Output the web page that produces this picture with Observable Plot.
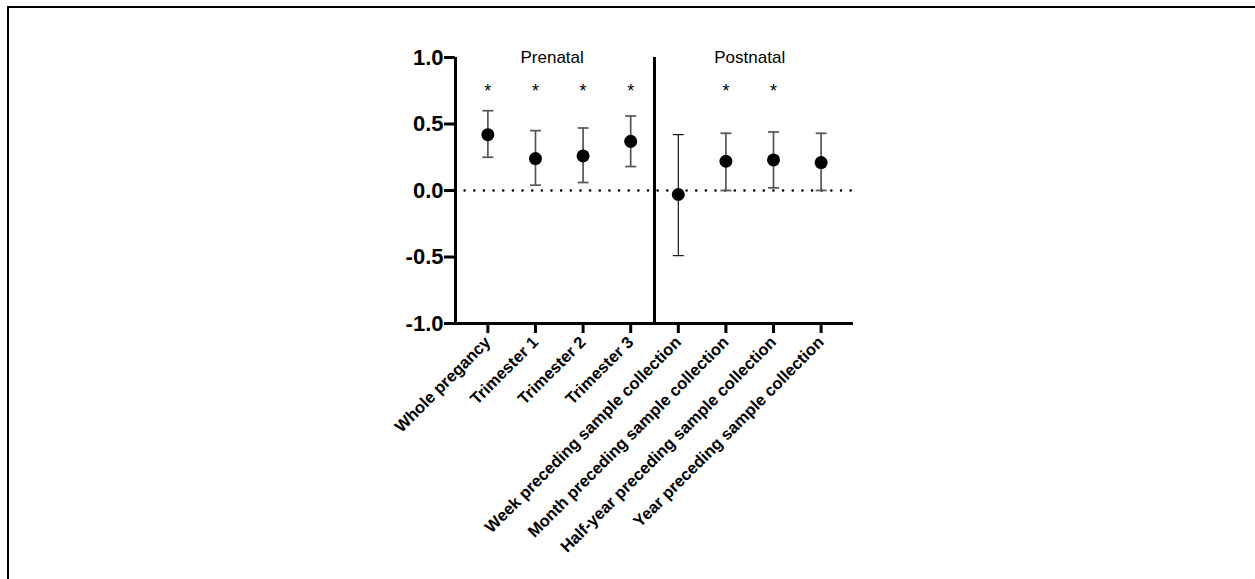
<!DOCTYPE html>
<html>
<head>
<meta charset="utf-8">
<script src="https://cdn.jsdelivr.net/npm/d3@7"></script>
<script src="https://cdn.jsdelivr.net/npm/@observablehq/plot@0.6"></script>
<style>
  html, body { margin: 0; padding: 0; background: #fff; }
  #wrap { position: relative; width: 1255px; height: 579px; overflow: hidden; }
  #frame { position: absolute; left: 7px; top: 6px; width: 1300px; height: 700px;
           border-left: 2.5px solid #000; border-top: 2.5px solid #000; pointer-events: none; }
  svg { display: block; }
</style>
</head>
<body>
<div id="wrap"><div id="frame"></div></div>
<script>
const categories = [
  "Whole pregancy", "Trimester 1", "Trimester 2", "Trimester 3",
  "Week preceding sample collection", "Month preceding sample collection",
  "Half-year preceding sample collection", "Year preceding sample collection"
];
const means = [0.42, 0.24, 0.26, 0.37, -0.03, 0.22, 0.23, 0.21];
const lower = [0.25, 0.04, 0.06, 0.18, -0.49, 0.00, 0.02, 0.00];
const upper = [0.60, 0.45, 0.47, 0.56, 0.42, 0.43, 0.44, 0.43];
const significant = [true, true, true, true, false, true, true, false];
const yTicks = [-1.0, -0.5, 0.0, 0.5, 1.0];
const panelNames = ["Prenatal", "Postnatal"];
const panelCenters = [1.35, 5.5];
const starLevel = 0.70;

const data = categories.map((c, i) => ({
  i, name: c, mean: means[i], lo: lower[i], hi: upper[i], sig: significant[i]
}));
const panels = panelNames.map((n, k) => ({name: n, x: panelCenters[k]}));

const capSymbol = {
  draw(ctx, size) {
    const w = Math.sqrt(size / Math.PI);
    ctx.moveTo(-w, 0);
    ctx.lineTo(w, 0);
  }
};
const barColor = d => d.i === 4 ? "#000" : "#555";
const barWidth = d => d.i === 4 ? 1.1 : 1.7;
const font = "'Liberation Sans', Arial, Helvetica, sans-serif";

const chart = Plot.plot({
  width: 1255,
  height: 579,
  marginLeft: 455,
  marginRight: 402,
  marginTop: 57,
  marginBottom: 256,
  style: {fontFamily: font, background: "transparent", color: "#000"},
  x: {type: "linear", domain: [-0.68, 7.68]},
  y: {domain: [-1, 1]},
  marks: [
    Plot.ruleY([0], {strokeDasharray: "0,9.65", strokeLinecap: "round", strokeWidth: 2.6}),
    Plot.ruleX(data, {x: "i", y1: "lo", y2: "hi", stroke: barColor, strokeWidth: barWidth}),
    Plot.dot(data, {x: "i", y: "hi", symbol: capSymbol, r: 5.5, stroke: barColor, strokeWidth: barWidth, fill: "none"}),
    Plot.dot(data, {x: "i", y: "lo", symbol: capSymbol, r: 5.5, stroke: barColor, strokeWidth: barWidth, fill: "none"}),
    Plot.dot(data, {x: "i", y: "mean", r: 6.5, fill: "#000", stroke: "none"}),
    Plot.text(data.filter(d => d.sig), {x: "i", y: () => starLevel, text: () => "*", lineAnchor: "bottom", fontSize: 18, fontFamily: font}),
    Plot.text(panels, {x: "x", y: () => 1, text: "name", lineAnchor: "bottom", dy: 5, fontSize: 17, fontFamily: font}),
    Plot.ruleX([-0.68], {strokeWidth: 3}),
    Plot.ruleX([3.5], {strokeWidth: 3}),
    Plot.ruleY([-1], {strokeWidth: 3}),
    Plot.axisY({
      ticks: yTicks, tickFormat: d => d.toFixed(1), tickSize: 11, tickPadding: 1,
      strokeWidth: 3, fontSize: 22, fontWeight: "bold", fontFamily: font, label: null
    }),
    Plot.axisX({
      ticks: d3.range(categories.length), tickFormat: i => categories[i], tickRotate: -45,
      tickSize: 10, tickPadding: 6, strokeWidth: 3, fontSize: 16.5, fontWeight: "bold",
      fontFamily: font, label: null
    })
  ]
});
document.getElementById("wrap").prepend(chart);
</script>
</body>
</html>
